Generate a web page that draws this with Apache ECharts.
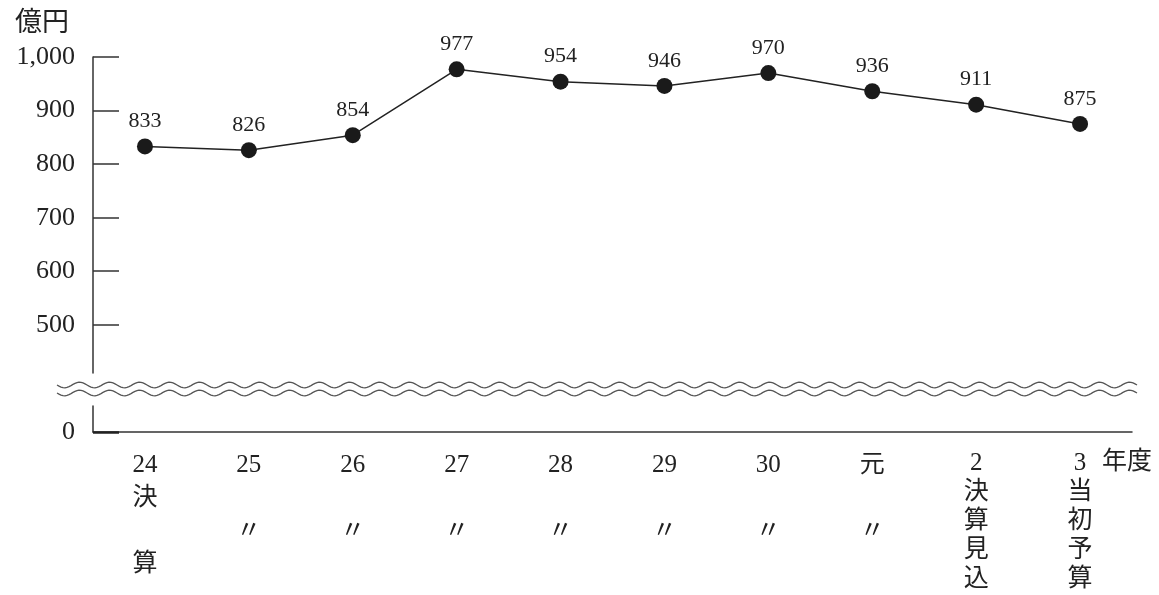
<!DOCTYPE html>
<html>
<head>
<meta charset="utf-8">
<script src="https://cdn.jsdelivr.net/npm/echarts@6/dist/echarts.min.js"></script>
<style>
  html, body { margin: 0; padding: 0; background: #fff; }
  #main { width: 1159px; height: 595px; }
</style>
</head>
<body>
<div id="main"></div>
<script>
  // 年度ごとの値（億円）
  var categories = ['24\n決\n　\n算', '25\n　\n〃', '26\n　\n〃', '27\n　\n〃', '28\n　\n〃',
    '29\n　\n〃', '30\n　\n〃', '元\n　\n〃', '2\n決\n算\n見\n込', '3\n当\n初\n予\n算'];
  var values = [833, 826, 854, 977, 954, 946, 970, 936, 911, 875];
  var yTicks = [500, 600, 700, 800, 900, 1000];
  var zeroTick = [0];

  var FONT = "'Liberation Serif', 'Noto Sans CJK JP', serif";
  var INK = '#222';
  var LINE = '#333';

  // 省略線（波線）
  function wave(y0) {
    var pts = [];
    for (var x = 57; x <= 1137; x += 2) {
      pts.push([x, y0 + 2.8 * Math.sin((x - 57) / 30 * 2 * Math.PI)]);
    }
    return {
      type: 'polyline', silent: true,
      shape: {points: pts},
      style: {stroke: '#555', lineWidth: 1.3, fill: null}
    };
  }

  var chart = echarts.init(document.getElementById('main'));
  window.onresize = chart.resize;
  chart.setOption({
    animation: false,
    grid: [
      {left: 93, right: 27, top: 57, bottom: 222},
      {left: 93, right: 27, top: 406, bottom: 163}
    ],
    xAxis: [{
      type: 'category', gridIndex: 0, data: categories, boundaryGap: true,
      show: false
    }, {
      type: 'category', gridIndex: 1, data: categories, boundaryGap: true,
      axisLine: {lineStyle: {color: LINE, width: 1.5}},
      axisTick: {inside: true, alignWithLabel: true, length: 9, lineStyle: {color: LINE, width: 1.5}},
      axisLabel: {
        margin: 17, interval: 0, color: INK,
        formatter: function (v) {
          var lines = v.split('\n');
          var st = lines.length > 4 ? 't' : 'w';
          return lines.map(function (l) { return '{' + st + '|' + l + '}'; }).join('\n');
        },
        rich: {
          w: {fontSize: 25, lineHeight: 33, fontFamily: FONT, color: INK},
          t: {fontSize: 25, lineHeight: 29, fontFamily: FONT, color: INK}
        }
      }
    }],
    yAxis: [{
      type: 'value', gridIndex: 0, min: 410, max: 1000,
      axisLine: {show: true, lineStyle: {color: LINE, width: 1.5}},
      axisTick: {show: true, inside: true, length: 26, customValues: yTicks,
        lineStyle: {color: LINE, width: 1.5}},
      axisLabel: {customValues: yTicks, margin: 18, color: INK, fontSize: 26, fontFamily: FONT,
        formatter: function (v) { return v >= 1000 ? '1,' + String(v).slice(1) : String(v); }},
      splitLine: {show: false}
    }, {
      type: 'value', gridIndex: 1, min: 0, max: 50,
      axisLine: {show: true, lineStyle: {color: LINE, width: 1.5}},
      axisTick: {show: true, inside: true, length: 26, customValues: zeroTick,
        lineStyle: {color: '#222', width: 2.5}},
      axisLabel: {customValues: zeroTick, margin: 18, color: INK, fontSize: 26, fontFamily: FONT},
      splitLine: {show: false}
    }],
    graphic: [
      wave(385), wave(393),
      {type: 'text', left: 15, top: 10,
        style: {text: '億円', fontSize: 27, fontFamily: FONT, fill: INK}},
      {type: 'text', left: 1102, top: 450,
        style: {text: '年度', fontSize: 25, fontFamily: FONT, fill: INK}}
    ],
    series: [{
      type: 'line', xAxisIndex: 0, yAxisIndex: 0,
      data: values,
      symbol: 'circle', symbolSize: 16,
      itemStyle: {color: '#1a1a1a'},
      lineStyle: {color: '#222', width: 1.5},
      label: {show: true, position: 'top', distance: 6, color: INK, fontSize: 22, fontFamily: FONT}
    }]
  });
</script>
</body>
</html>
